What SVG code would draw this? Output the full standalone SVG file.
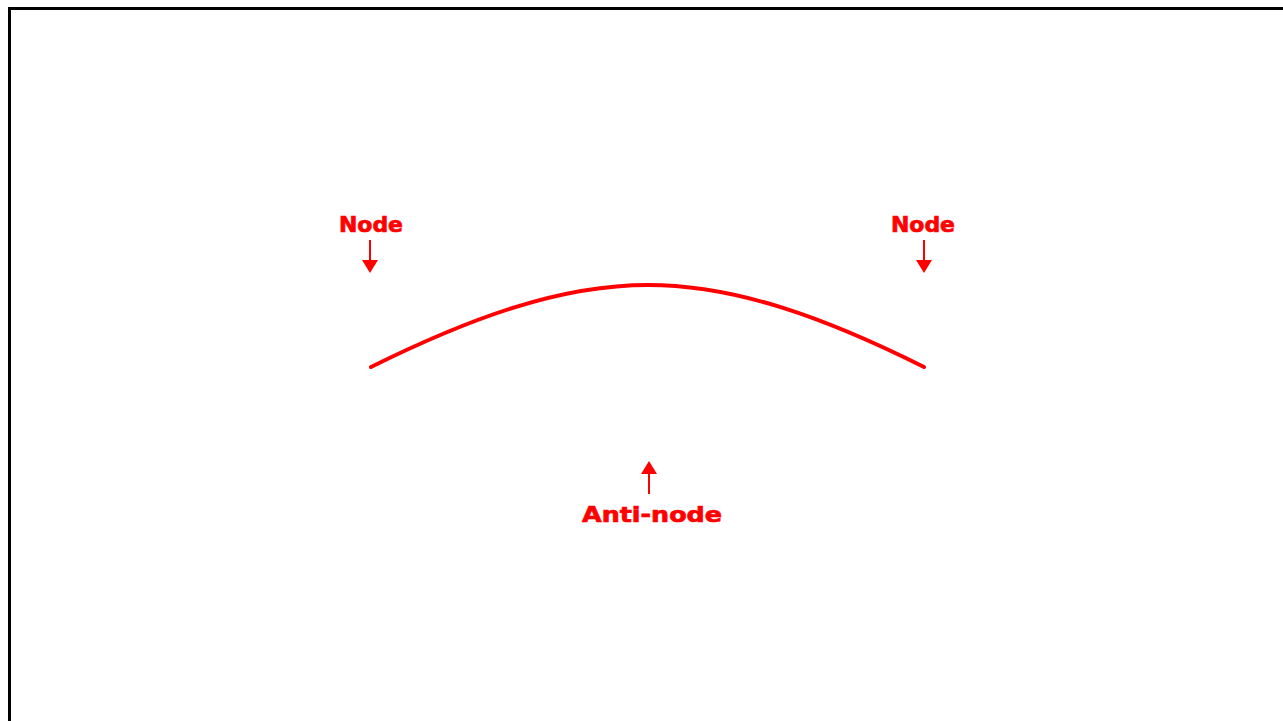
<svg xmlns="http://www.w3.org/2000/svg" width="1283" height="721" viewBox="0 0 1283 721">
<style>
.lbl{font-family:"DejaVu Sans","Liberation Sans",sans-serif;font-weight:bold;font-size:22px;fill:#ff0000;stroke:#ff0000;stroke-width:0.7;text-anchor:middle}
.ar{stroke:#ff0000;stroke-width:2;fill:none}
.hd{fill:#ff0000}
</style>
<rect x="0" y="0" width="1283" height="721" fill="#ffffff"/>
<path d="M9.5 730 V8.5 H1290" fill="none" stroke="#000000" stroke-width="3"/>
<g id="wave">
<path d="M371 367 C 470 318, 560 285, 648 285 C 736 285, 826 318, 924 367" fill="none" stroke="#ff0000" stroke-width="4" stroke-linecap="round"/>
</g>
<g id="node-left">
<text class="lbl" x="371" y="232" textLength="64" lengthAdjust="spacingAndGlyphs">Node</text>
</g>
<g id="node-right">
<text class="lbl" x="923" y="232" textLength="64" lengthAdjust="spacingAndGlyphs">Node</text>
</g>
<g id="antinode">
<text class="lbl" x="652" y="522" textLength="140" lengthAdjust="spacingAndGlyphs">Anti-node</text>
</g>
<g id="connectors">
<line class="ar" x1="370" y1="240" x2="370" y2="262"/>
<polygon class="hd" points="362,260 378,260 370,273"/>
<line class="ar" x1="924" y1="240" x2="924" y2="262"/>
<polygon class="hd" points="916,260 932,260 924,273"/>
<line class="ar" x1="649" y1="472" x2="649" y2="494"/>
<polygon class="hd" points="641,474 657,474 649,461"/>
</g>
</svg>
